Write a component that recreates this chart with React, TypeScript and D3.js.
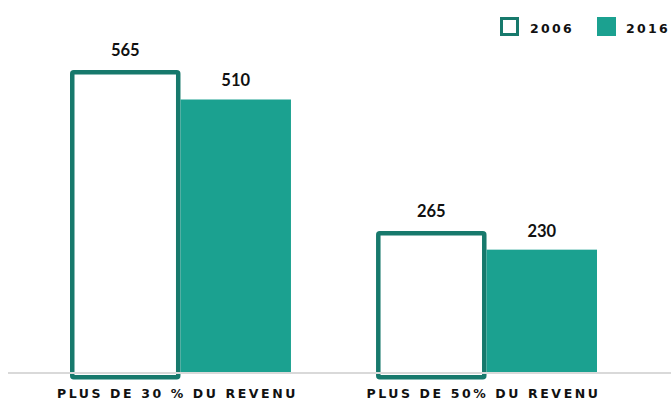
import React from "react";
import * as d3 from "d3";

const categories = ["PLUS DE 30 % DU REVENU", "PLUS DE 50% DU REVENU"];
const series = ["2006", "2016"];
const values2006 = [565, 265];
const values2016 = [510, 230];

const W = 671;
const H = 402;
const OUT = "#17796c";
const FILL = "#1ba190";

export default function App() {
  const baseline = 373;
  const y = d3.scaleLinear().domain([0, 565]).range([baseline, 70]);
  const x0 = d3.scaleBand().domain(categories).range([70, 597]).paddingInner(0.278).paddingOuter(0);
  const x1 = d3.scaleBand().domain(series).range([0, x0.bandwidth()]);
  const data = categories.map((c, i) => ({ c, v: [values2006[i], values2016[i]] }));
  const valueFont = "Lato, 'Liberation Sans', Arial, sans-serif";
  const labFont = "'DejaVu Sans', sans-serif";
  return (
    <svg width={W} height={H} style={{ position: "absolute", left: 0, top: 0 }}>
      {data.map((d) => {
        const gx = x0(d.c)!;
        return (
          <g key={d.c}>
            {series.map((s, j) => {
              const bx = gx + x1(s)!;
              const bw = x1.bandwidth();
              const v = d.v[j];
              const top = y(v);
              if (j === 0) {
                return (
                  <g key={s}>
                    <rect x={bx + 2.25} y={top + 2.25} width={bw - 4.5} height={baseline + 2 - top} fill="#fff" stroke={OUT} strokeWidth={4.5} rx={1.5} />
                    <text x={bx + bw / 2} y={top - 14} textAnchor="middle" fontFamily={valueFont} fontWeight="bold" fontSize={16.5} fill="#111">{v}</text>
                  </g>
                );
              }
              return (
                <g key={s}>
                  <rect x={bx} y={top} width={bw} height={baseline - top} fill={FILL} />
                  <text x={bx + bw / 2} y={top - 13} textAnchor="middle" fontFamily={valueFont} fontWeight="bold" fontSize={16.5} fill="#111">{v}</text>
                </g>
              );
            })}
            <text x={gx + x0.bandwidth() / 2 - 3} y={398} textAnchor="middle" fontFamily={labFont} fontWeight="bold" fontSize={12.5} letterSpacing={2.6} fill="#111">{d.c}</text>
          </g>
        );
      })}
      <line x1={8} x2={W} y1={baseline} y2={baseline} stroke="#d9d9d9" strokeWidth={2} />
      <g>
        <rect x={501.5} y={18.5} width={16} height={16} fill="#fff" stroke={OUT} strokeWidth={3} />
        <text x={530} y={32.5} fontFamily={labFont} fontWeight="bold" fontSize={12.5} letterSpacing={2.3} fill="#111">{series[0]}</text>
        <rect x={597} y={17} width={19} height={19} fill={FILL} />
        <text x={626} y={32.5} fontFamily={labFont} fontWeight="bold" fontSize={12.5} letterSpacing={2.3} fill="#111">{series[1]}</text>
      </g>
    </svg>
  );
}
